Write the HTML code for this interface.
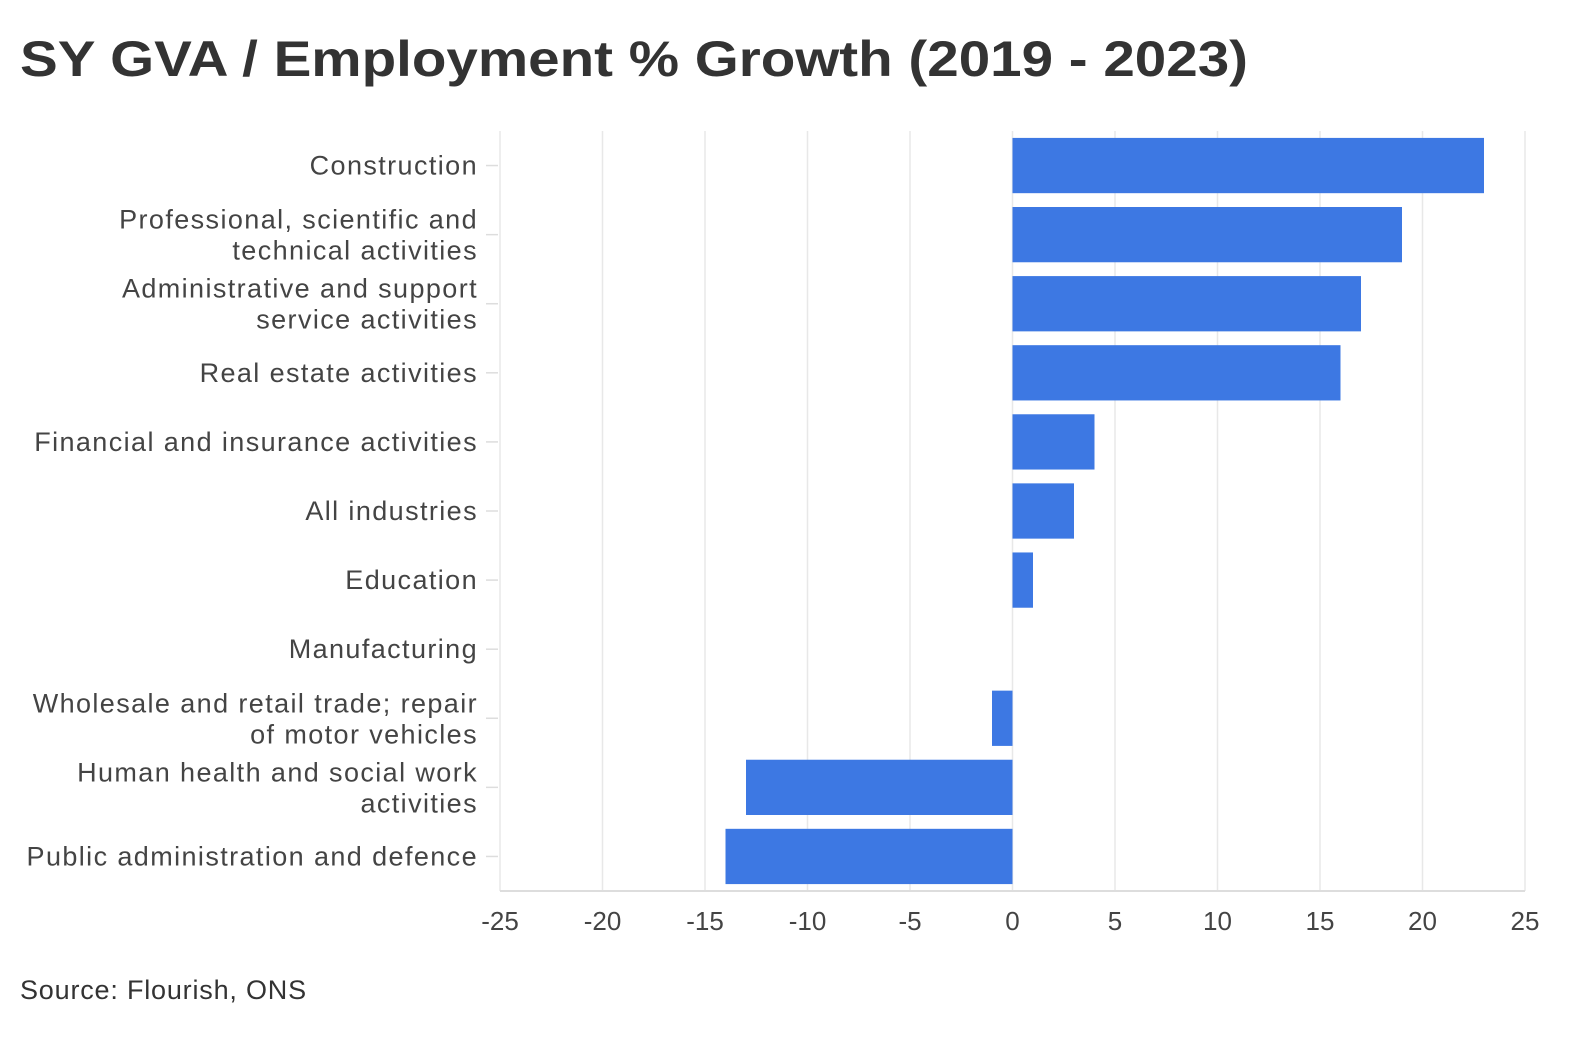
<!DOCTYPE html>
<html><head><meta charset="utf-8"><style>
body{margin:0;background:#fff;width:1588px;height:1040px;overflow:hidden;font-family:"Liberation Sans",sans-serif;}
</style></head><body>
<svg id="chart" width="1588" height="1040" xmlns="http://www.w3.org/2000/svg" font-family="Liberation Sans, sans-serif">
<text x="20" y="76" font-size="50" font-weight="bold" fill="#333" textLength="1228" lengthAdjust="spacingAndGlyphs">SY GVA / Employment % Growth (2019 - 2023)</text>
<g id="grid"></g><g id="bars"></g><g id="ylabels"></g><g id="xlabels"></g>
<text x="20" y="999" font-size="27" letter-spacing="0.8" fill="#333">Source: Flourish, ONS</text>
</svg>
<script>
const categories=[["Construction"],["Professional, scientific and","technical activities"],["Administrative and support","service activities"],["Real estate activities"],["Financial and insurance activities"],["All industries"],["Education"],["Manufacturing"],["Wholesale and retail trade; repair","of motor vehicles"],["Human health and social work","activities"],["Public administration and defence"]];
const values=[23,19,17,16,4,3,1,0,-1,-13,-14];
const ticks=[-25,-20,-15,-10,-5,0,5,10,15,20,25];
const NS="http://www.w3.org/2000/svg";
const x0=500,x1=1525,plotTop=131,plotBottom=891;
const xs=v=>x0+(v+25)/50*(x1-x0);
const step=(plotBottom-plotTop)/categories.length;
const yc=i=>plotTop+step*(i+0.5);
function mk(tag,attrs,parent){const e=document.createElementNS(NS,tag);for(const k in attrs)e.setAttribute(k,attrs[k]);document.getElementById(parent).appendChild(e);return e;}
ticks.forEach(t=>{
 const l=mk('line',{x1:xs(t),x2:xs(t),y1:plotTop,y2:plotBottom,stroke:'#e8e8e8','stroke-width':1.5},'grid');
 
 
 const tx=mk('text',{x:xs(t),y:930,'text-anchor':'middle','font-size':26,fill:'#444'},'xlabels');
 tx.textContent=t;
 
 
});
const ax=mk('line',{x1:x0,x2:x1,y1:plotBottom,y2:plotBottom,stroke:'#ddd','stroke-width':2},'grid');


categories.forEach((c,i)=>{
 const y=yc(i),bh=step*0.8,v=values[i];
 const r=mk('rect',{x:Math.min(xs(0),xs(v)),y:y-bh/2,width:Math.abs(xs(v)-xs(0)),height:bh,fill:'#3d78e3'},'bars');
 
 
 const tk=mk('line',{x1:486,x2:498,y1:y,y2:y,stroke:'#ddd','stroke-width':1.5},'grid');
 
 
 c.forEach((line,j)=>{
  const dy=c.length===1?9:(j===0?-6:25);
  const t=mk('text',{x:478,y:y+dy,'text-anchor':'end','font-size':27,'letter-spacing':1.4,fill:'#444'},'ylabels');
  t.textContent=line;
  
  
 });
});
</script>
</body></html>
